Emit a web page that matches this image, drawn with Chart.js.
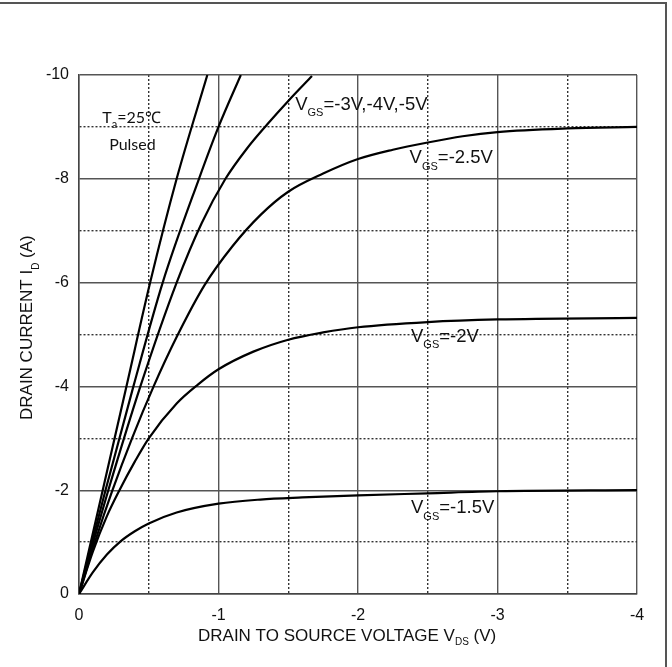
<!DOCTYPE html>
<html lang="en">
<head>
    <meta charset="UTF-8">
    <title>Drain current vs drain to source voltage</title>
    <script src="https://cdn.jsdelivr.net/npm/chart.js"></script>
    <style>
        body {
            margin: 0;
            background: #fff;
        }
        .wrap {
            position: relative;
            width: 672px;
            height: 667px;
        }
        .frame {
            position: absolute;
            left: 0;
            top: 2px;
            width: 665px;
            height: 665px;
            border-top: 2px solid #555;
            border-right: 2px solid #555;
            pointer-events: none;
        }
    </style>
</head>
<body>
<div class="wrap">
    <canvas id="idChart" width="672" height="667"></canvas>
    <div class="frame"></div>
</div>

<script>
    // curves: VDS (V) and ID (A) for each VGS
    const vdsGs5 = [0, -0.17, -0.34, -0.51, -0.70, -0.92];
    const idGs5 = [0, -2, -4, -6, -8, -10];

    const vdsGs4 = [0, -0.1, -0.19, -0.39, -0.60, -0.86, -1.0, -1.16];
    const idGs4 = [0, -1.07, -2, -4, -6, -8, -9, -10];

    const vdsGs3 = [0, -0.1, -0.21, -0.44, -0.7, -0.88, -1.05, -1.2, -1.35, -1.5, -1.67];
    const idGs3 = [0, -0.98, -2, -4, -6, -7.15, -8.0, -8.57, -9.05, -9.5, -9.98];

    const vdsGs25 = [0, -0.12, -0.24, -0.38, -0.535, -0.7, -0.9, -1.1, -1.3, -1.5, -1.75, -2.0, -2.25, -2.5, -2.75, -3.0, -3.5, -4.0];
    const idGs25 = [0, -1.05, -2, -3, -4, -4.95, -5.95, -6.7, -7.3, -7.75, -8.1, -8.38, -8.56, -8.7, -8.82, -8.9, -8.97, -9.0];

    const vdsGs2 = [0, -0.1, -0.2, -0.29, -0.4, -0.5, -0.7, -0.85, -1.0, -1.25, -1.5, -1.75, -2.0, -2.5, -3.0, -4.0];
    const idGs2 = [0, -0.82, -1.5, -2.0, -2.55, -3.0, -3.67, -4.03, -4.33, -4.67, -4.9, -5.04, -5.14, -5.24, -5.29, -5.32];

    const vdsGs15 = [0, -0.1, -0.2, -0.3, -0.4, -0.5, -0.7, -1.0, -1.3, -1.6, -2.0, -2.5, -3.0, -4.0];
    const idGs15 = [0, -0.42, -0.76, -1.02, -1.21, -1.36, -1.57, -1.74, -1.82, -1.86, -1.9, -1.94, -1.98, -2.0];

    const vgsLabels = ['-5V', '-4V', '-3V', '-2.5V', '-2V', '-1.5V'];
    const xTickLabels = ['0', '-1', '-2', '-3', '-4'];
    const yTickLabels = ['0', '-2', '-4', '-6', '-8', '-10'];

    const FONT = "'Liberation Sans', Arial, sans-serif";

    function toPoints(xs, ys) {
        return xs.map((x, i) => ({ x: x, y: ys[i] }));
    }

    function curve(label, xs, ys) {
        return {
            label: 'VGS=' + label,
            data: toPoints(xs, ys),
            showLine: true,
            borderColor: '#000',
            borderWidth: 2.2,
            pointRadius: 0,
            cubicInterpolationMode: 'monotone',
            fill: false
        };
    }

    function isWhole(v) {
        return Math.abs(v - Math.round(v)) < 1e-6;
    }

    // draws text pieces one after another, with subscripts
    function drawRich(ctx, x, y, parts) {
        let cx = x;
        parts.forEach(p => {
            ctx.font = p.font;
            ctx.fillText(p.t, cx, y + (p.dy || 0));
            cx += ctx.measureText(p.t).width;
        });
    }

    const big = '18.5px ' + FONT;
    const sub = '11px ' + FONT;

    const textPlugin = {
        id: 'texts',
        afterDraw(chart) {
            const ctx = chart.ctx;
            const xs = chart.scales.x;
            const ys = chart.scales.y;
            const px = v => xs.getPixelForValue(v);
            const py = v => ys.getPixelForValue(v);
            ctx.save();
            ctx.fillStyle = '#111';
            ctx.textAlign = 'left';
            ctx.textBaseline = 'alphabetic';

            // conditions
            drawRich(ctx, px(-0.167), py(-9.08), [
                { t: 'T', font: '16px Lato, sans-serif' },
                { t: 'a', font: '11px Lato, sans-serif', dy: 5 },
                { t: '=25\u2103', font: '16px Lato, sans-serif' }
            ]);
            ctx.font = '16px Lato, sans-serif';
            ctx.fillText('Pulsed', px(-0.216), py(-8.55));

            // curve labels
            const lab = (xv, yv, val) => drawRich(ctx, px(xv), py(yv), [
                { t: 'V', font: big },
                { t: 'GS', font: sub, dy: 6.5 },
                { t: '=' + val, font: big }
            ]);
            lab(-1.55, -9.33, vgsLabels[2] + ',' + vgsLabels[1] + ',' + vgsLabels[0]);
            lab(-2.37, -8.30, vgsLabels[3]);
            lab(-2.38, -4.86, vgsLabels[4]);
            lab(-2.38, -1.56, vgsLabels[5]);

            // x axis title
            drawRich(ctx, 198, 641, [
                { t: 'DRAIN TO SOURCE VOLTAGE V', font: '17px ' + FONT },
                { t: 'DS', font: '10px ' + FONT, dy: 4 },
                { t: ' (V)', font: '17px ' + FONT }
            ]);

            // y axis title
            ctx.translate(31.5, 420);
            ctx.rotate(-Math.PI / 2);
            drawRich(ctx, 0, 0, [
                { t: 'DRAIN CURRENT I', font: '17px ' + FONT },
                { t: 'D', font: '10px ' + FONT, dy: 7 },
                { t: ' (A)', font: '17px ' + FONT }
            ]);
            ctx.restore();
        }
    };

    // minor lines: half volts on x, odd amps on y
    const xMinor = c => c.tick && !isWhole(c.tick.value);
    const yMinor = c => c.tick && Math.abs(Math.round(c.tick.value)) % 2 === 1;

    function axis(minorFn) {
        return {
            grid: {
                drawTicks: false,
                color: c => minorFn(c) ? '#333' : '#555',
                lineWidth: 1.4
            },
            border: {
                display: true,
                color: '#444',
                width: 1.5,
                dash: c => minorFn(c) ? [2, 2] : []
            }
        };
    }

    new Chart(document.getElementById('idChart'), {
        type: 'scatter',
        data: {
            datasets: [
                curve(vgsLabels[0], vdsGs5, idGs5),
                curve(vgsLabels[1], vdsGs4, idGs4),
                curve(vgsLabels[2], vdsGs3, idGs3),
                curve(vgsLabels[3], vdsGs25, idGs25),
                curve(vgsLabels[4], vdsGs2, idGs2),
                curve(vgsLabels[5], vdsGs15, idGs15)
            ]
        },
        options: {
            responsive: false,
            animation: false,
            events: [],
            layout: {
                padding: { top: 75, right: 35, left: 0, bottom: 0 }
            },
            plugins: {
                legend: { display: false },
                tooltip: { enabled: false }
            },
            scales: {
                x: Object.assign({
                    type: 'linear',
                    min: -4,
                    max: 0,
                    reverse: true,
                    afterFit: s => { s.height = 73; },
                    ticks: {
                        stepSize: 0.5,
                        autoSkip: false,
                        maxRotation: 0,
                        padding: 12,
                        color: '#111',
                        font: { family: FONT, size: 16 },
                        callback: v => isWhole(v) ? xTickLabels[Math.round(-v)] : ''
                    }
                }, axis(xMinor)),
                y: Object.assign({
                    type: 'linear',
                    min: -10,
                    max: 0,
                    reverse: true,
                    afterFit: s => { s.width = 79; },
                    ticks: {
                        stepSize: 1,
                        autoSkip: false,
                        padding: 10,
                        color: '#111',
                        font: { family: FONT, size: 16 },
                        callback: v => (isWhole(v) && Math.round(v) % 2 === 0) ? yTickLabels[Math.round(-v) / 2] : ''
                    }
                }, axis(yMinor))
            }
        },
        plugins: [textPlugin]
    });
</script>
</body>
</html>
